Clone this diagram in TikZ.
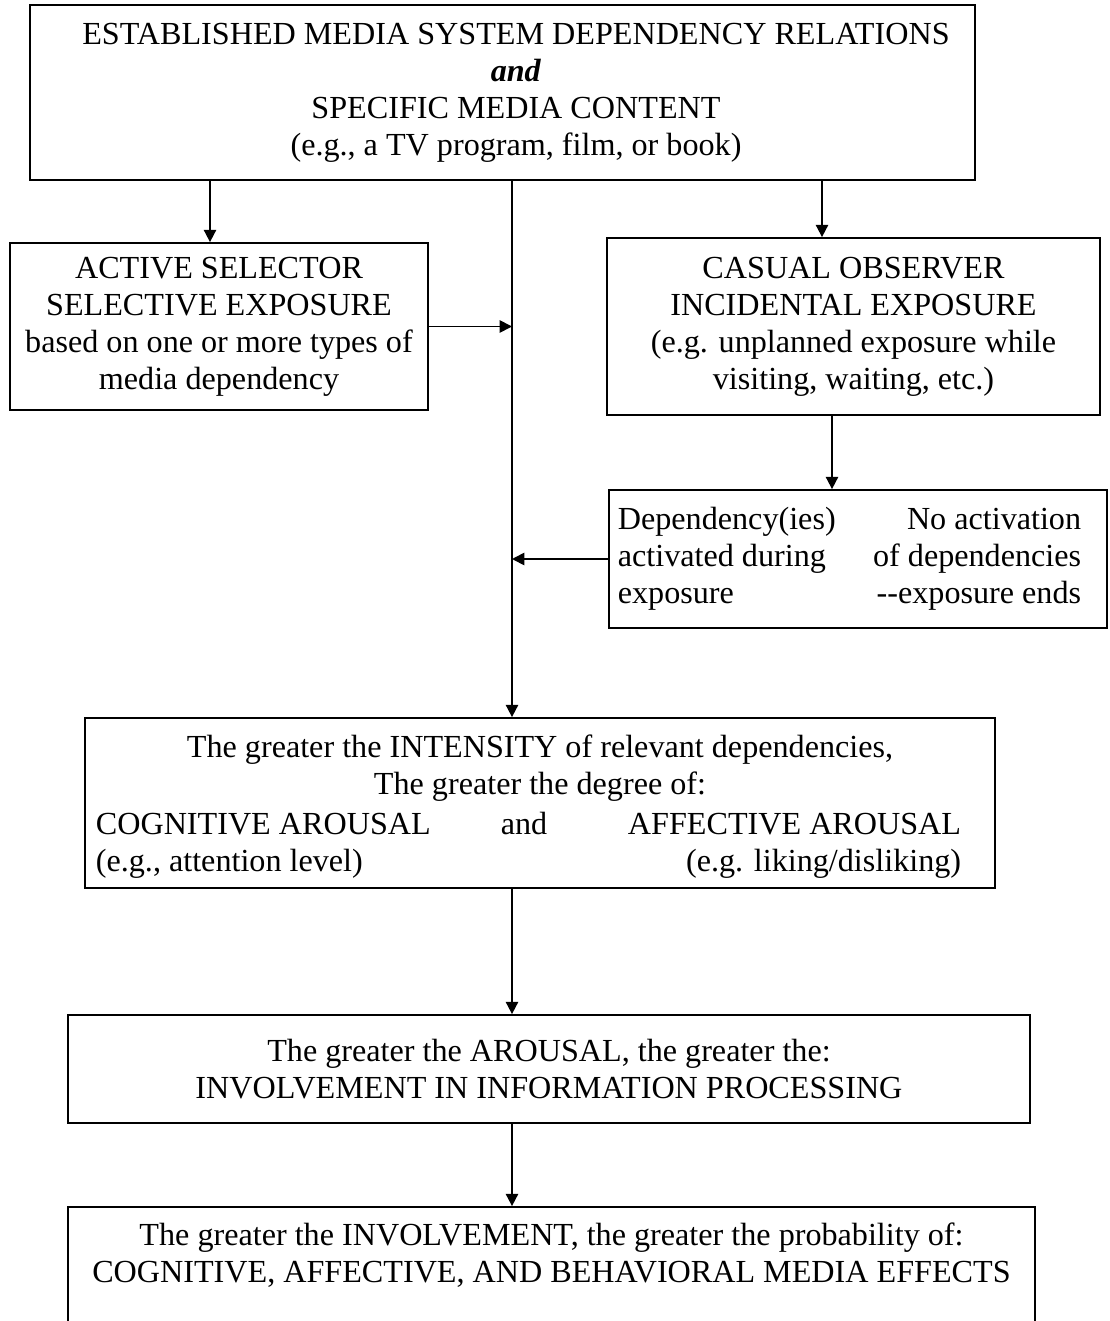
\documentclass[tikz,border=0pt]{standalone}
\usepackage{fontspec}
\setmainfont{Liberation Serif}
\usetikzlibrary{arrows.meta}
\begin{document}
\begin{tikzpicture}[x=0.02cm,y=-0.02cm,line width=1pt,
  bx/.style 2 args={draw,rectangle,inner sep=0pt,align=center,
    font=\fontsize{18.3}{21}\selectfont,
    minimum width=#1*0.02cm,minimum height=#2*0.02cm},
  txt/.style={inner sep=0pt,align=center,font=\fontsize{18.3}{21}\selectfont},
  arr/.style={-{Triangle[length=7pt,width=7pt]}}]
\useasboundingbox (0,0) rectangle (1109,1321);
\coordinate (trunk) at (512,0);
\coordinate (ja) at (210,0);
\coordinate (jc) at (822,0);
\coordinate (jd) at (832,0);
\node[bx={945}{175}] (top) at (502.5,92.5) {};
\node[txt] (toptxt) at (516,92.5) {ESTABLISHED MEDIA SYSTEM DEPENDENCY RELATIONS\\
  \textbf{\textit{and}}\\SPECIFIC MEDIA CONTENT\\(e.g., a TV program, film, or book)};
\node[bx={418}{167}] (act) at (219,326.5) {ACTIVE SELECTOR\\SELECTIVE EXPOSURE\\
  based on one or more types of\\media dependency};
\node[bx={493}{177}] (cas) at (853.5,326.5) {CASUAL OBSERVER\\INCIDENTAL EXPOSURE\\
  (e.g. unplanned exposure while\\visiting, waiting, etc.)};
\node[bx={498}{138}] (dep) at (858,559) {};
\node[txt,align=left,anchor=west] (depl) at (617,559) {Dependency(ies)\\activated during\\exposure};
\node[txt,align=right,anchor=east] (depr) at (1082,559) {No activation\\of dependencies\\{-}{-}exposure ends};
\node[bx={910}{170}] (int) at (540,803) {};
\node[txt] (int1) at (540,768) {The greater the INTENSITY of relevant dependencies,\\The greater the degree of:};
\node[txt,anchor=base west] (cogn) at (95,834) {COGNITIVE AROUSAL};
\node[txt,anchor=base] (and) at (524,834) {and};
\node[txt,anchor=base east] (affe) at (962,834) {AFFECTIVE AROUSAL};
\node[txt,anchor=base west] (cogex) at (95,871) {(e.g., attention level)};
\node[txt,anchor=base east] (affex) at (962,871) {(e.g. liking/disliking)};
\node[bx={962}{108}] (aro) at (549,1069) {The greater the AROUSAL, the greater the:\\
  INVOLVEMENT IN INFORMATION PROCESSING};
\node[bx={967}{133}] (eff) at (551.5,1273.5) {};
\node[txt] (efftxt) at (551.5,1255.5) {The greater the INVOLVEMENT, the greater the probability of:\\
  COGNITIVE, AFFECTIVE, AND BEHAVIORAL MEDIA EFFECTS};
\draw[arr] (top.south -| ja) -- (act.north -| ja);
\draw[arr] (top.south -| jc) -- (cas.north -| jc);
\draw[arr] (top.south -| trunk) -- (int.north -| trunk);
\draw[arr] (act.east) -- (act.east -| trunk);
\draw[arr] (cas.south -| jd) -- (dep.north -| jd);
\draw[arr] (dep.west) -- (dep.west -| trunk);
\draw[arr] (int.south -| trunk) -- (aro.north -| trunk);
\draw[arr] (aro.south -| trunk) -- (eff.north -| trunk);
\end{tikzpicture}
\end{document}
